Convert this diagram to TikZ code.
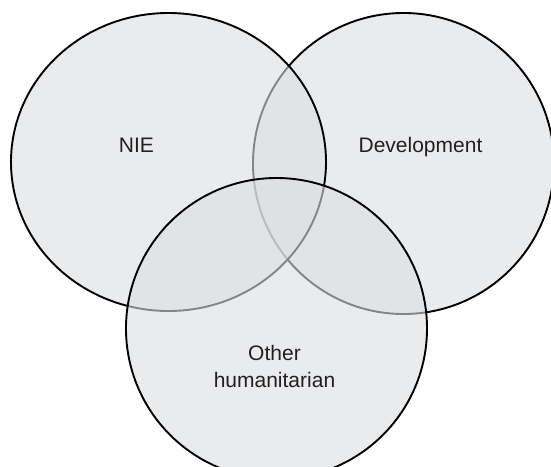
\documentclass[tikz,border=0pt]{standalone}
\usepackage{fontspec}
\setmainfont{Liberation Sans}
\usepackage{xcolor}
\usetikzlibrary{positioning, shapes}

\definecolor{vennfill}{RGB}{220,222,225}
\definecolor{venntext}{RGB}{35,31,32}

\begin{document}
\begin{tikzpicture}[
    x=1pt, y=-1pt,
    set/.style={ellipse, draw=black, line width=1.9pt, fill=vennfill, fill opacity=0.6, inner sep=0pt},
    setlabel/.style={text=venntext, font=\fontsize{21}{27}\selectfont, align=center, anchor=base}
]
\useasboundingbox (0,0) rectangle (551,466);

% the three sets, Development first so NIE lies over it
\node [set, minimum width=301pt, minimum height=301pt] (dev) at (403.5,163.5) {};
\node [set, minimum width=315pt, minimum height=298pt] (nie) at (168.5,162) {};
\node [set, minimum width=301pt, minimum height=301pt] (other) at (276.5,328.5) {};

% labels
\node [setlabel] (nielabel) at (136.5,152) {NIE};
\node [setlabel] (devlabel) at (420.5,152) {Development};
\node [setlabel] (otherlabel) at (274.5,387) {Other\\humanitarian};

\end{tikzpicture}
\end{document}
